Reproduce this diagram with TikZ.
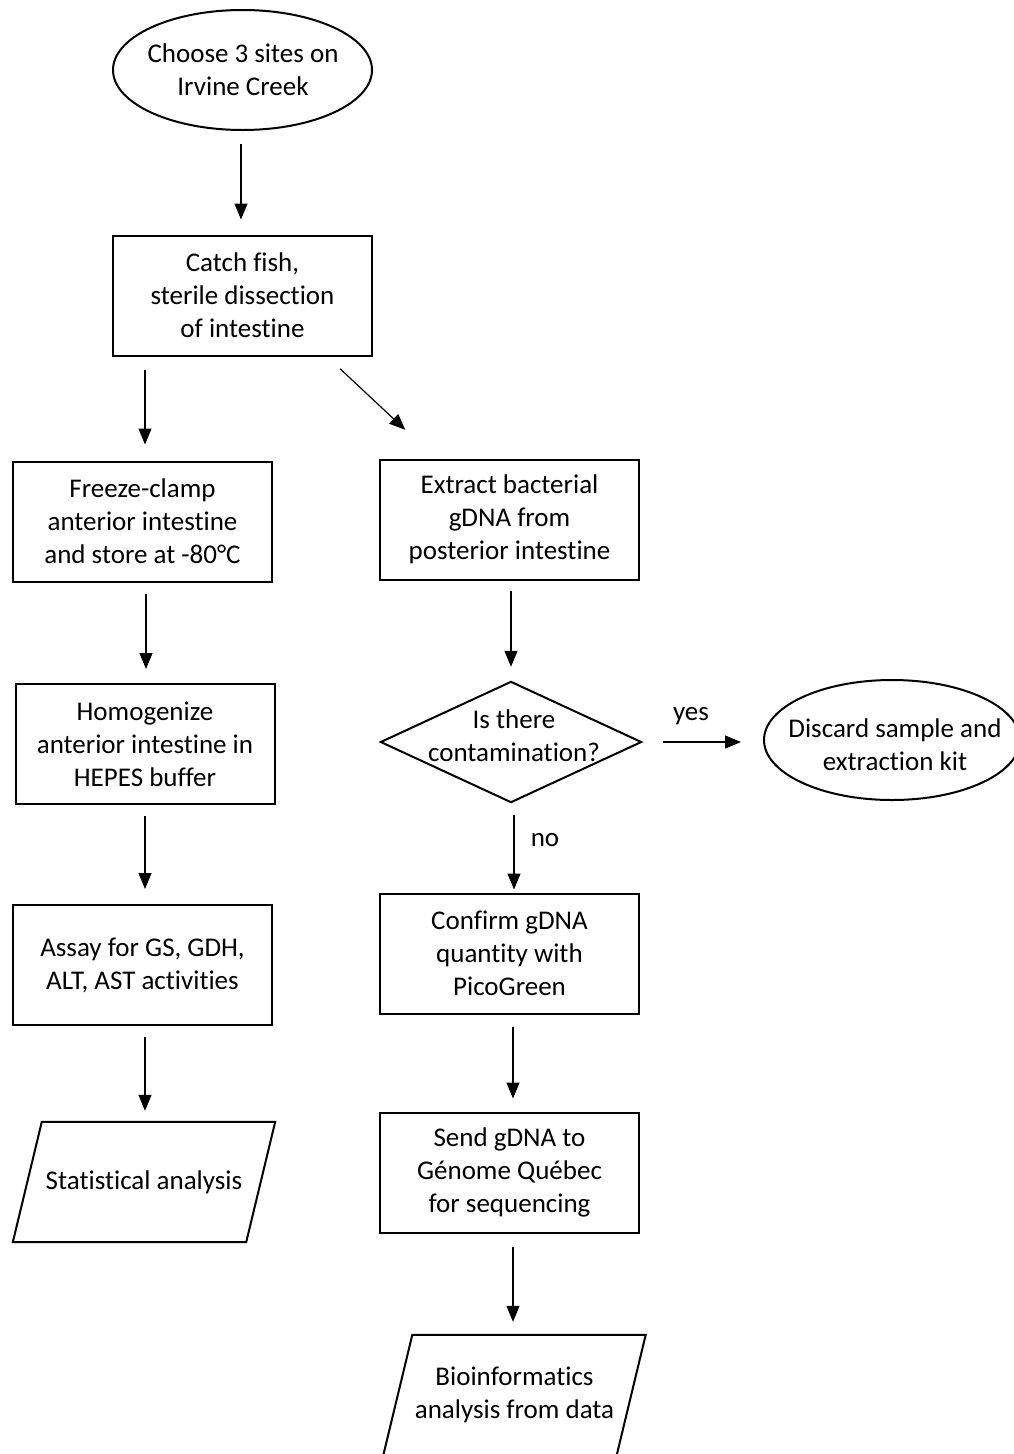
\documentclass[tikz,border=0pt]{standalone}
\usepackage{fontspec}
\setmainfont{Carlito}[Ligatures={NoCommon}]
\usetikzlibrary{arrows.meta,shapes.geometric}
\begin{document}
\begin{tikzpicture}[x=1pt,y=-1pt,
  every node/.style={font=\fontsize{27}{33}\selectfont, align=center, inner sep=0pt},
  procbox/.style={draw, line width=2pt, rectangle, minimum width=259pt, minimum height=120pt},
  termin/.style={draw, line width=2pt, ellipse, minimum width=259pt, minimum height=120pt},
  plain/.style={rectangle, minimum width=262pt, minimum height=120pt},
  shapeline/.style={line width=2pt, line join=miter},
  conn/.style={line width=1.2pt, -{Triangle[length=16pt,width=13pt]}}]
\useasboundingbox (0,0) rectangle (1013,1454);

% nodes
\node[termin] (start) at (242.5,70) {};
\node at (243,70) {Choose 3 sites on\\Irvine Creek};
\node[procbox] (catch) at (242.5,295.5) {Catch fish,\\sterile dissection\\of intestine};
\node[procbox] (freeze) at (142.5,521.5) {Freeze-clamp\\anterior intestine\\and store at -80°C};
\node[procbox] (extract) at (509.5,519.5) {Extract bacterial\\gDNA from\\posterior intestine};
\node[procbox] (homog) at (145,744) {Homogenize\\anterior intestine in\\HEPES buffer};
\node[plain, minimum width=260pt] (contam) at (511,742) {};
\node at (514,736) {Is there\\contamination?};
\draw[shapeline] (contam.north) -- (contam.east) -- (contam.south) -- (contam.west) -- cycle;
\node[termin, minimum width=256pt] (discard) at (892,740) {};
\node at (895,744.5) {Discard sample and\\extraction kit};
\node[procbox] (assay) at (142.5,965) {Assay for GS, GDH,\\ALT, AST activities};
\node[procbox] (confirm) at (509.5,953.5) {Confirm gDNA\\quantity with\\PicoGreen};
\node[plain] (stat) at (144,1182) {Statistical analysis};
\draw[shapeline] ([xshift=29pt]stat.north west) -- (stat.north east) -- ([xshift=-29pt]stat.south east) -- (stat.south west) -- cycle;
\node[procbox] (send) at (509.5,1172.5) {Send gDNA to\\Génome Québec\\for sequencing};
\node[plain] (bio) at (514.5,1395) {Bioinformatics\\analysis from data};
\draw[shapeline] ([xshift=29pt]bio.north west) -- (bio.north east) -- ([xshift=-29pt]bio.south east) -- (bio.south west) -- cycle;

% labels
\node (yes) at (691,716) {yes};
\node (no) at (545,840) {no};

% connectors
\draw[conn, shorten <=13pt, shorten >=15pt] (start.south -| 241,0) -- (catch.north -| 241,0);
\draw[conn, shorten <=13pt, shorten >=16pt] (catch.south -| 145,0) -- (freeze.north -| 145,0);
\draw[conn, shorten <=18pt, shorten >=42pt] ([xshift=-46pt]catch.south east) -- ([xshift=57pt]extract.north west);
\draw[conn, shorten <=11pt, shorten >=14pt] (freeze.south -| 146,0) -- (homog.north -| 146,0);
\draw[conn, shorten <=10pt, shorten >=15pt] (extract.south -| 511,0) -- (contam.north -| 511,0);
\draw[conn, shorten <=22pt, shorten >=22pt] (contam.east) -- (contam.east -| discard.west);
\draw[conn, shorten <=11pt, shorten >=15pt] (homog.south -| 145,0) -- (assay.north -| 145,0);
\draw[conn, shorten <=13pt, shorten >=3pt] (contam.south -| 514,0) -- (confirm.north -| 514,0);
\draw[conn, shorten <=11pt, shorten >=11pt] (assay.south -| 145,0) -- (stat.north -| 145,0);
\draw[conn, shorten <=12pt, shorten >=13pt] (confirm.south -| 513,0) -- (send.north -| 513,0);
\draw[conn, shorten <=13pt, shorten >=13pt] (send.south -| 513,0) -- (bio.north -| 513,0);
\end{tikzpicture}
\end{document}
